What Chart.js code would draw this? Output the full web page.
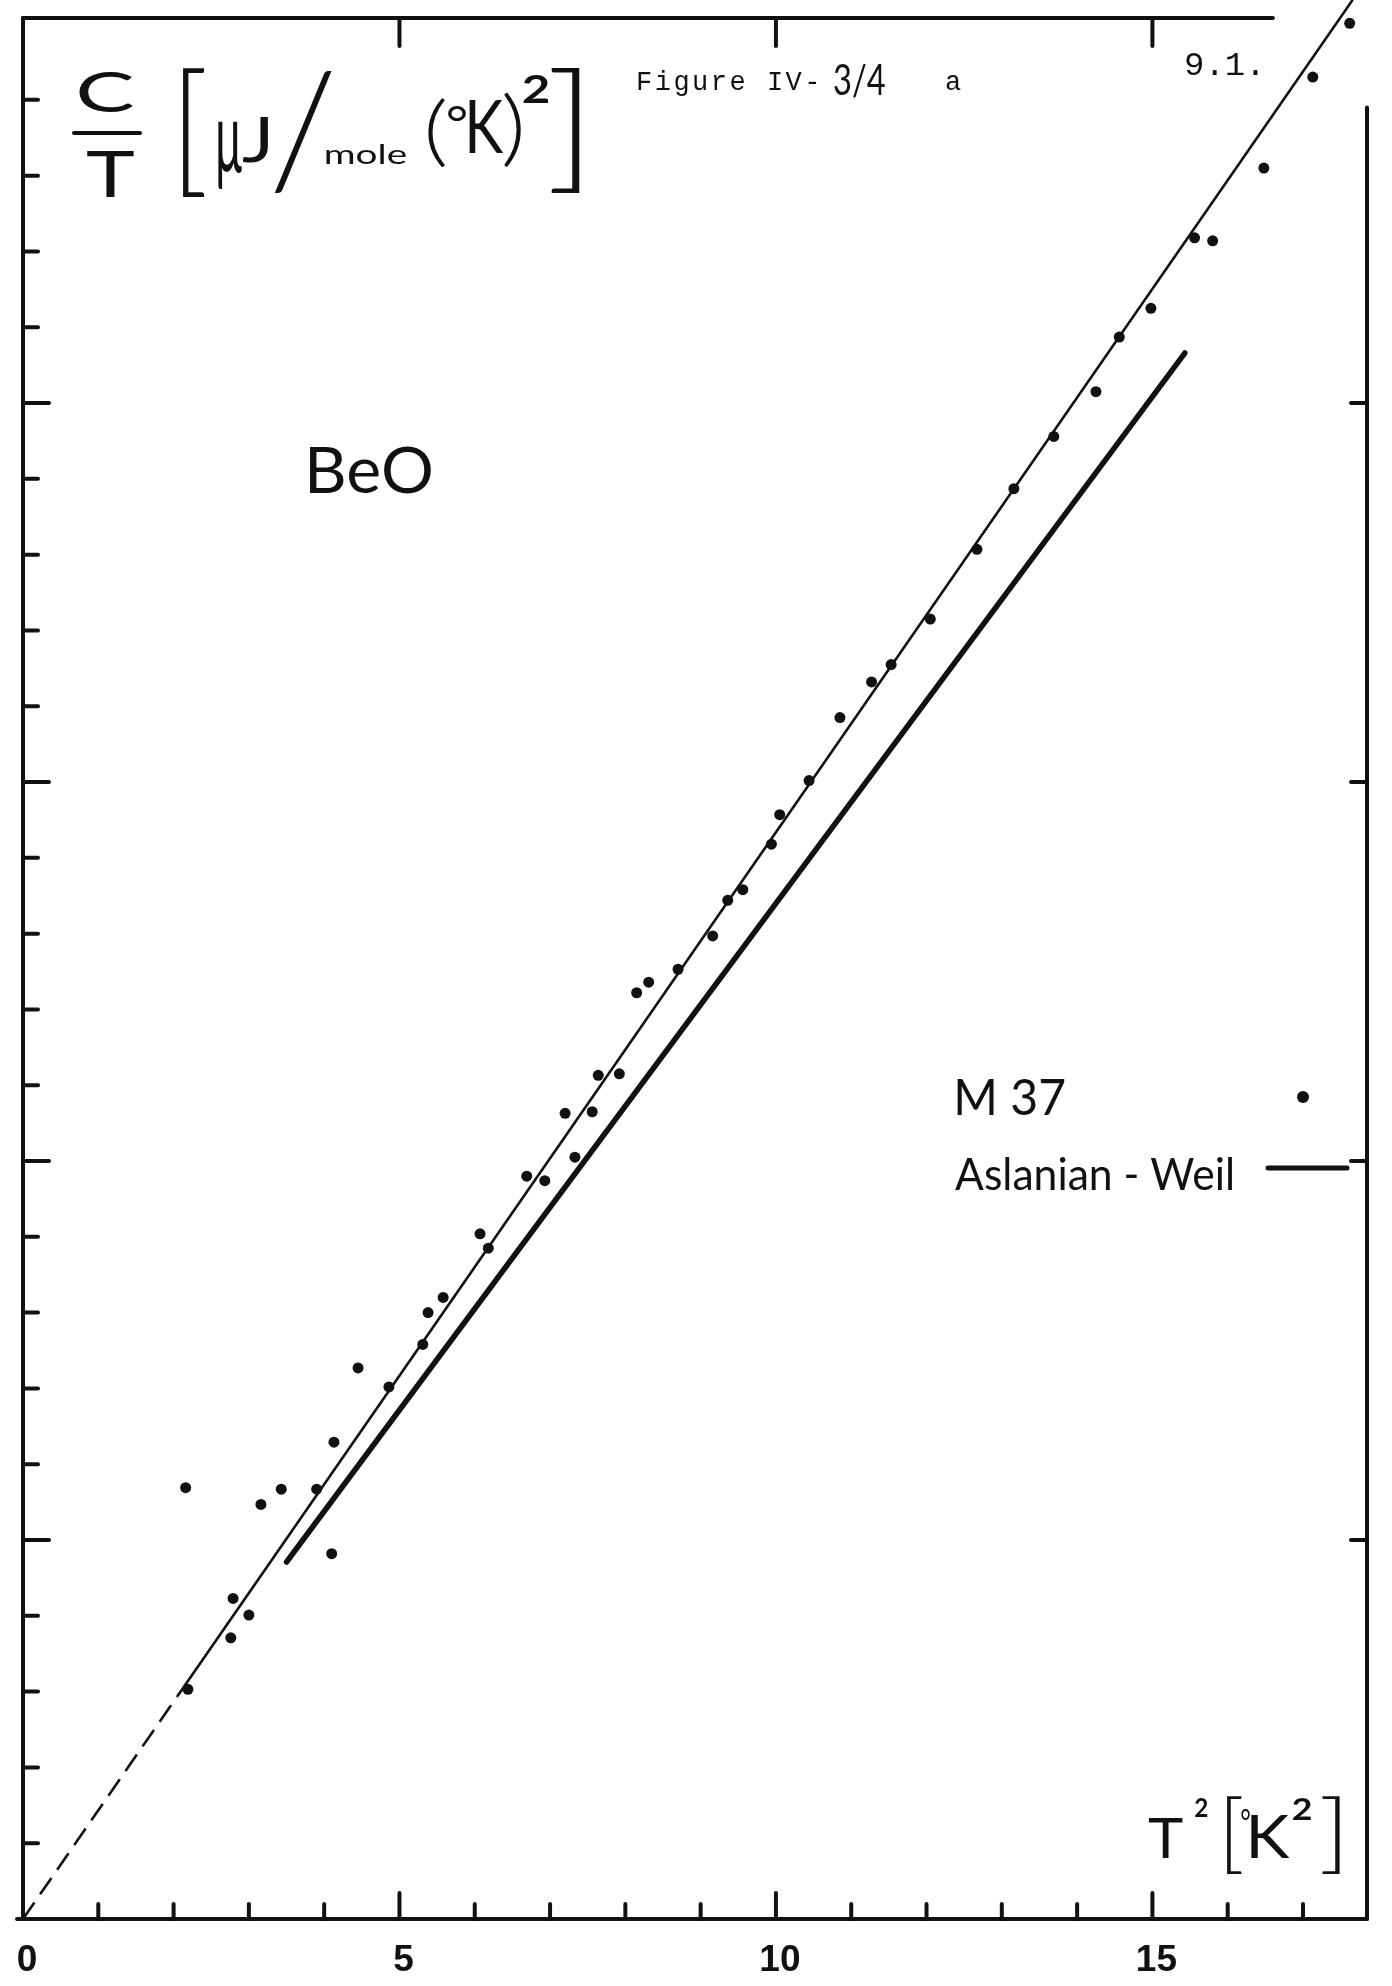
<!DOCTYPE html>
<html>
<head>
<meta charset="utf-8">
<title>BeO - C/T versus T²</title>
<script src="https://cdn.jsdelivr.net/npm/chart.js@4.4.1/dist/chart.umd.min.js"></script>
<style>
  html, body { margin: 0; padding: 0; background: #fff; }
  #chart { display: block; }
</style>
</head>
<body>
<canvas id="chart" width="1392" height="1986"></canvas>
<script>
// M 37 measurements, T^2 [K^2] against C/T
const t2 = [2.19, 2.16, 2.76, 2.79, 3.00, 3.16, 3.43, 3.90, 4.13, 4.10,
            4.45, 4.86, 5.31, 5.38, 5.58, 6.07, 6.18, 6.69, 6.93, 7.20,
            7.33, 7.56, 7.64, 7.92, 8.15, 8.31, 8.70, 9.16, 9.36, 9.56,
            9.94, 10.05, 10.44, 10.85, 11.27, 11.53, 12.05, 12.67, 13.16, 13.69,
            14.25, 14.56, 14.98, 15.56, 15.80, 16.48, 17.13, 17.62];
const ct = [3.03, 5.69, 3.71, 4.23, 4.01, 5.47, 5.67, 5.67, 6.29, 4.82,
            7.27, 7.02, 7.58, 8.00, 8.20, 9.04, 8.85, 9.80, 9.74, 10.63,
            10.05, 10.65, 11.13, 11.15, 12.22, 12.36, 12.53, 12.97, 13.44, 13.58,
            14.18, 14.57, 15.02, 15.85, 16.32, 16.55, 17.15, 18.07, 18.87, 19.56,
            20.15, 20.87, 21.25, 22.18, 22.14, 23.10, 24.30, 25.01];

// fitted line through the points (solid part and dashed part to the origin)
const fitT2 = [2.05, 17.66];
const fitCT = [2.94, 25.32];
const dashT2 = [0, 2.05];
const dashCT = [0, 2.94];

// Aslanian - Weil
const awT2 = [3.5, 15.43];
const awCT = [4.71, 20.66];

// axes
const xMax = 17.85;
const yMax = 25.08;
const xTickValues = [1, 2, 3, 4, 5, 6, 7, 8, 9, 10, 11, 12, 13, 14, 15, 16, 17];
const yTickValues = [1, 2, 3, 4, 5, 6, 7, 8, 9, 10, 11, 12, 13, 14, 15, 16, 17, 18, 19, 20, 21, 22, 23, 24];
const xTickLabels = [0, 5, 10, 15];
const topTicks = [5, 10, 15];
const rightTicks = [5, 10, 15, 20];
const topFrameEnd = 16.6;
const rightFrameTop = 23.9;

const ink = "#111";

const toPoints = (xs, ys) => xs.map((v, i) => ({ x: v, y: ys[i] }));

// draws s so that its ink box fills l,t,r,b
function fitText(ctx, s, font, l, t, r, b) {
  ctx.save();
  ctx.font = font;
  ctx.textAlign = "left";
  ctx.textBaseline = "alphabetic";
  ctx.letterSpacing = "0px";
  const m = ctx.measureText(s);
  const w = m.actualBoundingBoxLeft + m.actualBoundingBoxRight;
  const h = m.actualBoundingBoxAscent + m.actualBoundingBoxDescent;
  const sx = r == null ? 1 : (r - l) / w;
  const sy = (b - t) / h;
  ctx.translate(l, t);
  ctx.scale(sx, sy);
  ctx.fillText(s, m.actualBoundingBoxLeft, m.actualBoundingBoxAscent);
  ctx.restore();
}

const paper = {
  id: "paper",
  beforeDatasetsDraw(chart) {
    const { ctx, scales: { x, y } } = chart;
    const px = v => x.getPixelForValue(v);
    const py = v => y.getPixelForValue(v);
    const seg = (x1, y1, x2, y2) => {
      ctx.beginPath(); ctx.moveTo(x1, y1); ctx.lineTo(x2, y2); ctx.stroke();
    };
    ctx.save();
    ctx.strokeStyle = ink;
    ctx.lineCap = "round";
    ctx.lineWidth = 4;
    // frame
    seg(px(0), py(yMax), px(0), py(0));
    seg(px(0) - 6, py(0), px(xMax), py(0));
    seg(px(0), py(yMax), px(topFrameEnd), py(yMax));
    seg(px(xMax), py(rightFrameTop), px(xMax), py(0));
    // ticks, drawn inward
    xTickValues.forEach(v => {
      const len = v % 5 === 0 ? 26 : 15;
      seg(px(v), py(0), px(v), py(0) - len);
    });
    yTickValues.forEach(v => {
      const len = v % 5 === 0 ? 26 : 15;
      seg(px(0), py(v), px(0) + len, py(v));
    });
    topTicks.forEach(v => seg(px(v), py(yMax), px(v), py(yMax) + 28));
    rightTicks.forEach(v => seg(px(xMax), py(v), px(xMax) - 16, py(v)));
    ctx.restore();
  },
  afterDraw(chart) {
    const { ctx, scales: { x, y } } = chart;
    ctx.save();
    ctx.fillStyle = ink;
    ctx.strokeStyle = ink;

    // x tick labels
    ctx.font = "700 37px 'Liberation Sans'";
    ctx.textAlign = "center";
    ctx.textBaseline = "alphabetic";
    xTickLabels.forEach(v => ctx.fillText(String(v), x.getPixelForValue(v) + 4, y.getPixelForValue(0) + 52));

    // y axis title: C/T [uJ/mole(K)^2]
    fitText(ctx, "C", "400 62px Lato", 78, 70, 134, 113);
    ctx.lineWidth = 4;
    ctx.lineCap = "round";
    ctx.beginPath(); ctx.moveTo(74, 133); ctx.lineTo(140, 133); ctx.stroke();
    fitText(ctx, "T", "400 62px Lato", 86, 150, 134, 197);
    fitText(ctx, "[", "300 60px Lato", 183, 70, 205, 197);
    fitText(ctx, "μ", "400 50px Lato", 218, 123, 242, 190);
    fitText(ctx, "J", "400 50px Lato", 242, 117, 268, 162);
    fitText(ctx, "/", "300 120px Lato", 274, 70, 332, 193);
    fitText(ctx, "mole", "400 34px Lato", 326, 143, 406, 164);
    fitText(ctx, "(", "300 60px Lato", 428, 97, 446, 167);
    fitText(ctx, "°", "400 40px Lato", 447, 107, 466, 122);
    fitText(ctx, "K", "400 62px Lato", 469, 100, 504, 153);
    fitText(ctx, ")", "300 60px Lato", 504, 93, 522, 167);
    fitText(ctx, "2", "700 36px Lato", 523, 75, 549, 103);
    fitText(ctx, "]", "300 60px Lato", 551, 70, 580, 193);

    // x axis title: T^2 [K^2]
    fitText(ctx, "T", "400 58px Lato", 1148, 1817, 1183, 1858);
    fitText(ctx, "2", "700 30px Lato", 1195, 1797, 1208, 1817);
    fitText(ctx, "[", "300 60px Lato", 1227, 1798, 1242, 1875);
    fitText(ctx, "°", "400 34px Lato", 1241, 1808, 1250, 1820);
    fitText(ctx, "K", "400 58px Lato", 1251, 1815, 1290, 1858);
    fitText(ctx, "2", "700 30px Lato", 1293, 1797, 1312, 1820);
    fitText(ctx, "]", "300 60px Lato", 1322, 1798, 1340, 1875);

    // figure caption
    ctx.textAlign = "left";
    ctx.textBaseline = "alphabetic";
    ctx.font = "400 27px 'Liberation Mono'";
    ctx.letterSpacing = "2.5px";
    ctx.fillText("Figure IV-", 636, 90);
    ctx.fillText("a", 945, 90);
    ctx.letterSpacing = "0px";
    fitText(ctx, "3/4", "400 32px Lato", 834, 64, 885, 98);
    ctx.font = "400 34px 'Liberation Mono'";
    ctx.letterSpacing = "0px";
    ctx.fillText("9.1.", 1184, 75);

    // material
    fitText(ctx, "BeO", "400 66px Lato", 310, 446, 431, 494);

    // legend
    fitText(ctx, "M 37", "400 52px Lato", 957, 1078, 1065, 1115);
    ctx.beginPath(); ctx.arc(1303, 1097, 6, 0, Math.PI * 2); ctx.fill();
    fitText(ctx, "Aslanian - Weil", "400 42px Lato", 955, 1157, 1232, 1190);
    ctx.lineWidth = 5;
    ctx.beginPath(); ctx.moveTo(1268, 1168); ctx.lineTo(1347, 1168); ctx.stroke();
    ctx.restore();
  }
};

new Chart(document.getElementById("chart"), {
  type: "scatter",
  data: {
    datasets: [
      {
        label: "M 37",
        data: toPoints(t2, ct),
        pointRadius: 5.5,
        pointHoverRadius: 5.5,
        pointBackgroundColor: ink,
        pointBorderWidth: 0,
        showLine: false
      },
      {
        label: "fit",
        data: toPoints(fitT2, fitCT),
        showLine: true,
        borderColor: ink,
        borderWidth: 2.6,
        pointRadius: 0,
        clip: false
      },
      {
        label: "fit extrapolated",
        data: toPoints(dashT2, dashCT),
        showLine: true,
        borderColor: ink,
        borderWidth: 2.6,
        borderDash: [20, 10],
        pointRadius: 0
      },
      {
        label: "Aslanian - Weil",
        data: toPoints(awT2, awCT),
        showLine: true,
        borderColor: ink,
        borderWidth: 5.5,
        borderCapStyle: "round",
        pointRadius: 0
      }
    ]
  },
  options: {
    responsive: false,
    animation: false,
    devicePixelRatio: 1,
    layout: { padding: { left: 23, right: 25, top: 18, bottom: 67 } },
    plugins: {
      legend: { display: false },
      tooltip: { enabled: false }
    },
    scales: {
      x: { type: "linear", min: 0, max: xMax, display: false },
      y: { type: "linear", min: 0, max: yMax, display: false }
    }
  },
  plugins: [paper]
});
</script>
</body>
</html>
